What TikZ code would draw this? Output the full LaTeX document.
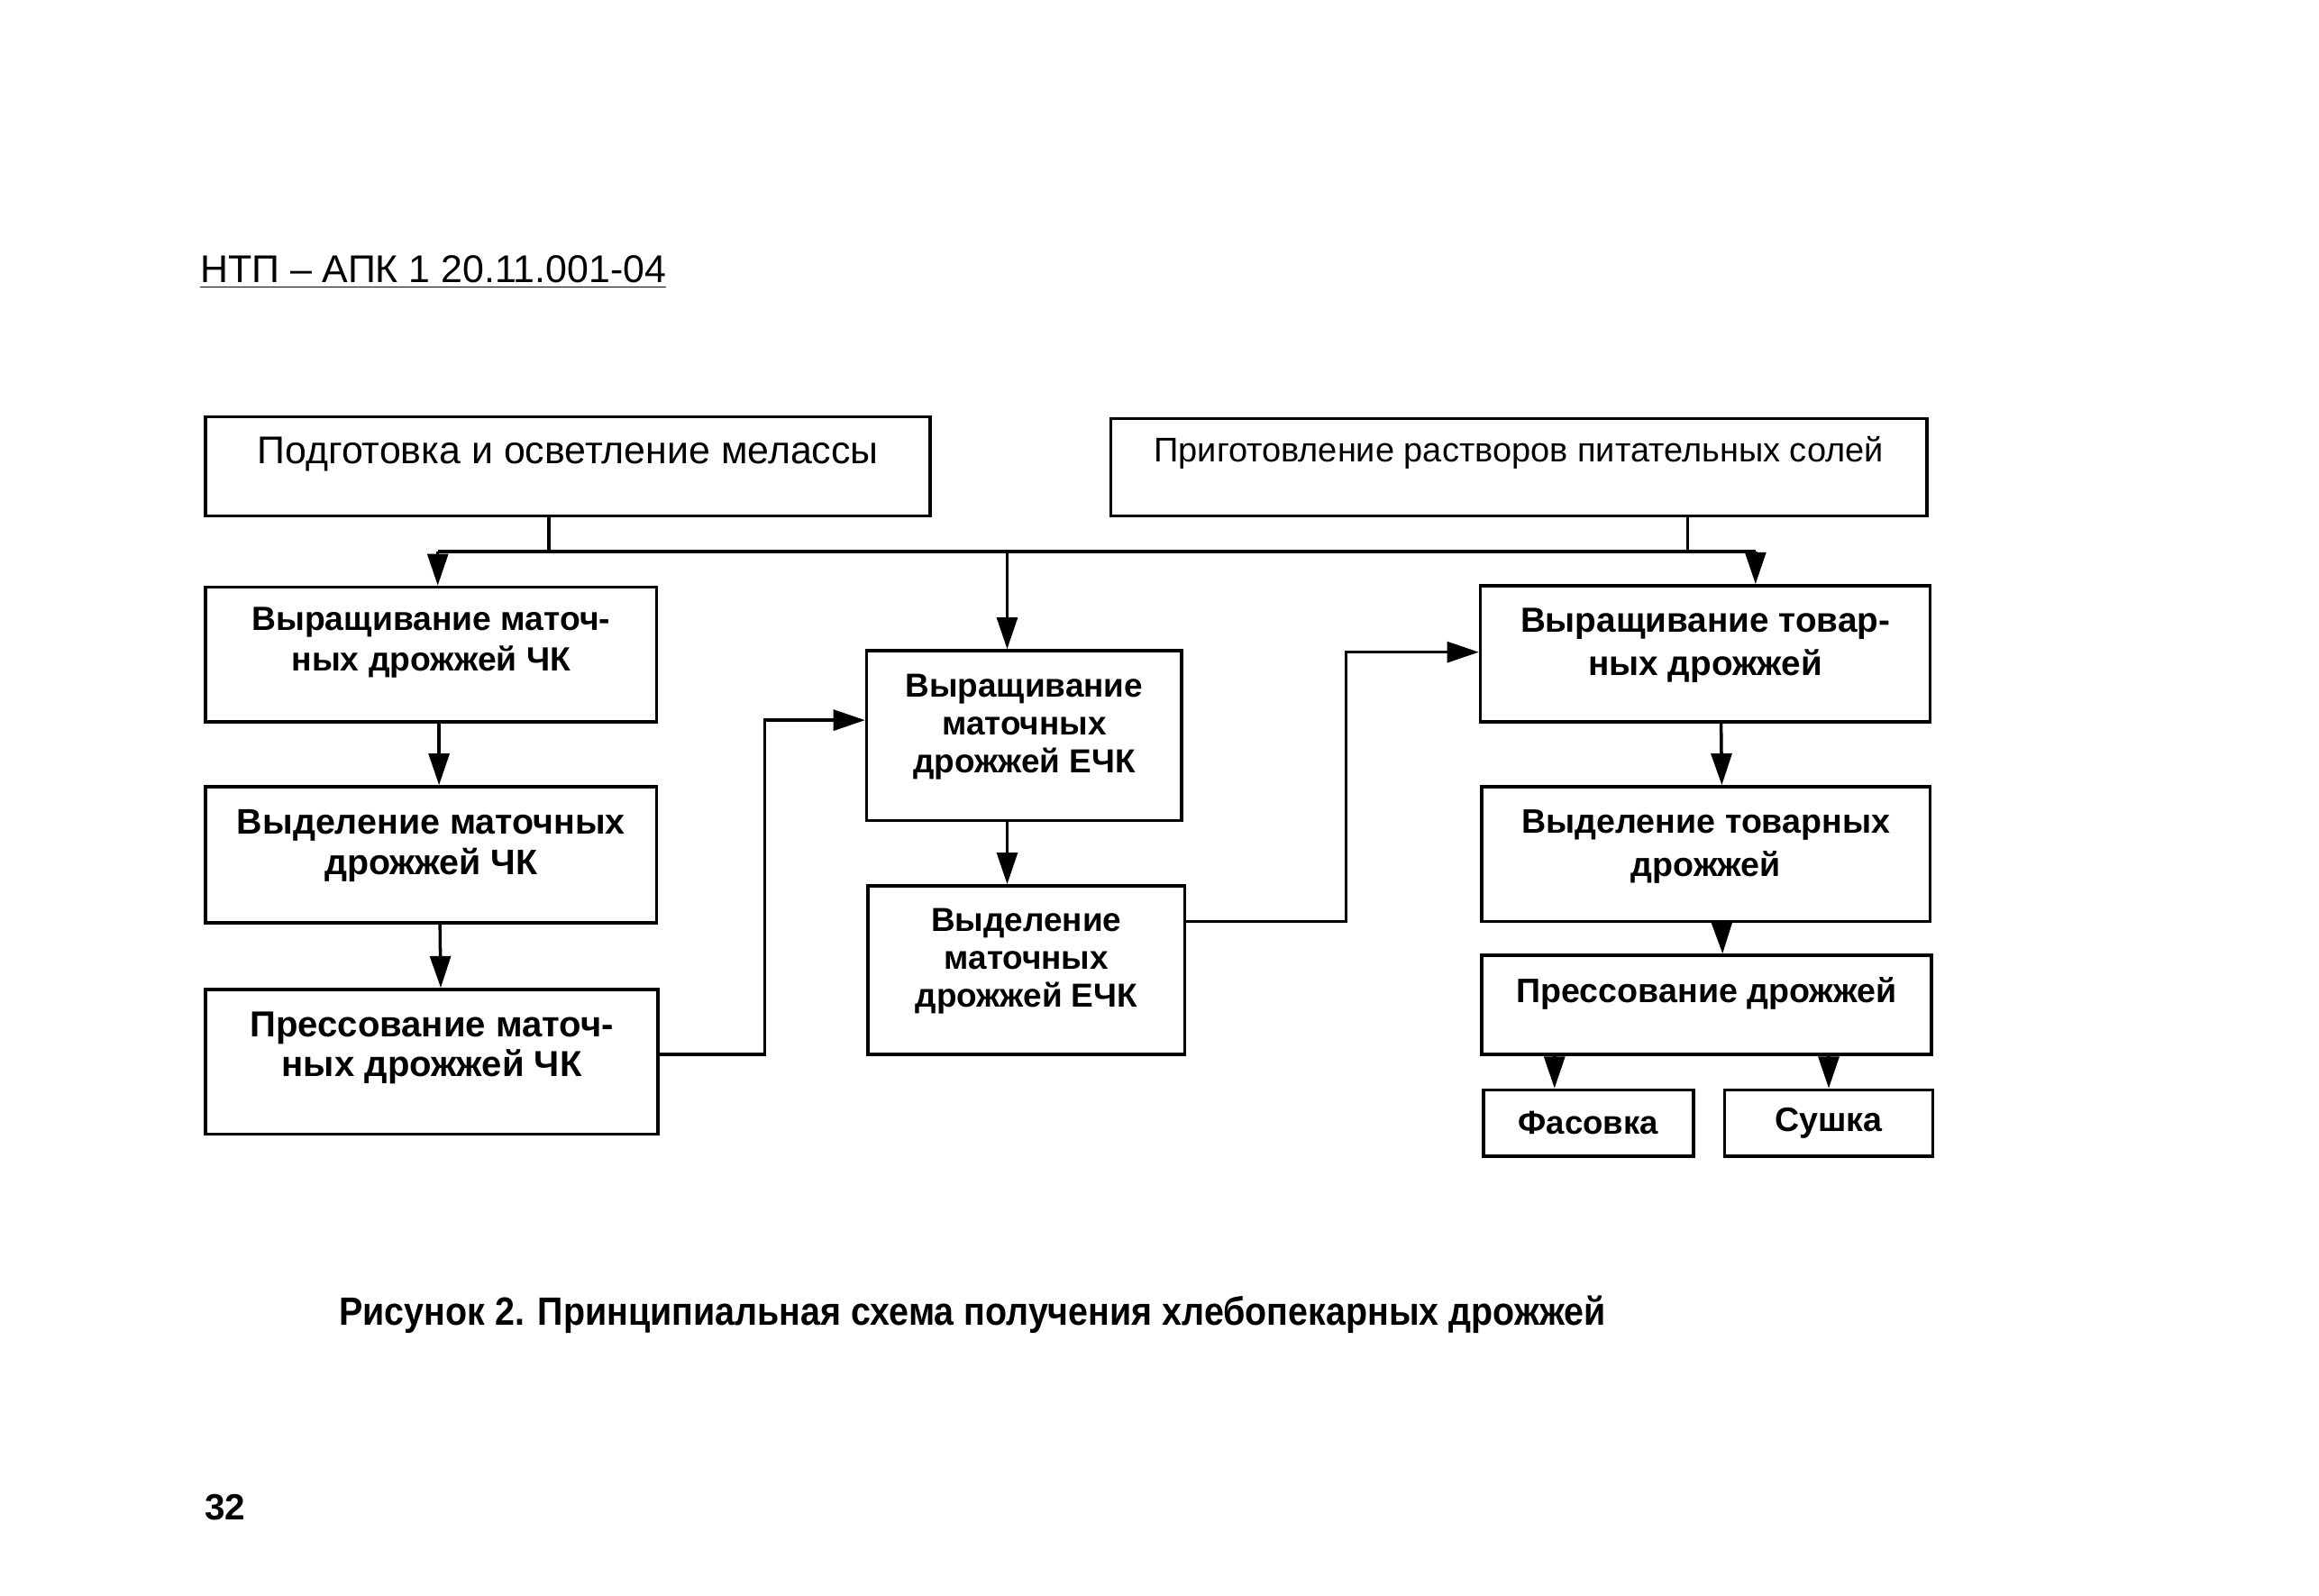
\documentclass[tikz,border=0pt]{standalone}
\usepackage{fontspec}
\setmainfont{Liberation Sans}
\newfontfamily\narrowfont[FakeStretch=0.9]{Liberation Sans}
\usetikzlibrary{arrows.meta,fit,positioning}
\tikzset{
    %Define standard arrow tip
    >={Triangle[length=10pt,width=6.5pt]},
    %Define style for boxes
    box/.style={
           rectangle,
           draw=black, line width=1pt,
           inner sep=0pt},
    boxtext/.style={
           align=center,
           inner sep=0pt,
           font=\bfseries\fontsize{11}{12.6}\selectfont},
    widetext/.style={
           align=center,
           inner sep=0pt,
           font=\bfseries\fontsize{10.7}{13.5}\selectfont},
    plaintext/.style={
           anchor=west,
           inner sep=0pt},
    % Define arrow style
    pil/.style={
           ->,
           line width=1pt},
    lin/.style={
           line width=1pt}
}
\begin{document}
\begin{tikzpicture}[x=0.01641cm,y=-0.01641cm]
\useasboundingbox (0,0) rectangle (1568,1079);
\node[plaintext, font=\fontsize{12.2}{14}\selectfont] (hdr) at (135,184) {\underline{НТП – АПК 1 20.11.001-04}};
% boxes
\node[box, fit={(139,282) (629,349)}] (melassa) {};
\node[box, fit={(751,283) (1303,349)}] (soli) {};
\node[box, fit={(139,397) (444,488)}] (rostchk) {};
\node[box, fit={(139,532) (444,624)}] (vydchk) {};
\node[box, fit={(139,669) (445,767)}] (presschk) {};
\node[box, fit={(586,440) (799,555)}] (rostechk) {};
\node[box, fit={(587,599) (801,713)}] (vydechk) {};
\node[box, fit={(1001,396) (1305,488)}] (rosttov) {};
\node[box, fit={(1002,532) (1305,623)}] (vydtov) {};
\node[box, fit={(1002,646) (1306,713)}] (presstov) {};
\node[box, fit={(1003,737) (1145,782)}] (fasovka) {};
\node[box, fit={(1166,737) (1307,782)}] (sushka) {};
% texts
\node[boxtext, font=\fontsize{12.2}{14}\selectfont] (melassa-t) at ([yshift=4pt]melassa) {Подготовка и осветление мелассы};
\node[boxtext, font=\fontsize{10.8}{13}\selectfont] (soli-t) at ([yshift=4.5pt]soli) {Приготовление растворов питательных солей};
\node[boxtext, font=\bfseries\fontsize{10.6}{12.6}\selectfont] (rostchk-t) at ([yshift=3.7pt]rostchk) {Выращивание маточ-\\ных дрожжей ЧК};
\node[boxtext, font=\bfseries\fontsize{11.2}{13}\selectfont] (vydchk-t) at ([yshift=2.8pt]vydchk) {Выделение маточных\\дрожжей ЧК};
\node[boxtext, font=\bfseries\fontsize{11.4}{12.6}\selectfont] (presschk-t) at ([yshift=4.4pt]presschk) {Прессование маточ-\\ных дрожжей ЧК};
\node[boxtext, font=\bfseries\fontsize{10.5}{11.9}\selectfont] (rostechk-t) at ([yshift=2.8pt]rostechk) {Выращивание\\маточных\\дрожжей ЕЧК};
\node[boxtext, font=\bfseries\fontsize{10.5}{11.9}\selectfont] (vydechk-t) at ([yshift=2.8pt]vydechk) {Выделение\\маточных\\дрожжей ЕЧК};
\node[widetext, font=\bfseries\fontsize{11}{13.5}\selectfont] (rosttov-t) at ([yshift=2.6pt]rosttov) {Выращивание товар-\\ных дрожжей};
\node[widetext] (vydtov-t) at ([yshift=2.3pt]vydtov) {Выделение товарных\\дрожжей};
\node[widetext] (presstov-t) at ([yshift=3.5pt]presstov) {Прессование дрожжей};
\node[widetext, font=\bfseries\fontsize{10.4}{13}\selectfont] (fasovka-t) at (fasovka) {Фасовка};
\node[widetext] (sushka-t) at (sushka) {Сушка};
% connectors
\coordinate (busl) at (296,373);
\coordinate (busr) at (1187,373);
\coordinate (j1) at (371,373);
\coordinate (j2) at (1141,373);
\coordinate (j3) at (681,373);
\draw[lin] (melassa.south -| j1) -- (j1);
\draw[lin] (soli.south -| j2) -- (j2);
\draw[lin] (busl) -- (busr);
\draw[pil] (busl) -- (rostchk.north -| busl);
\draw[pil] (j3) -- (rostechk.north -| j3);
\draw[pil] (busr) -- (rosttov.north -| busr);
\draw[pil] ([xshift=2.5pt]rostchk.south) -- ([xshift=2.5pt]vydchk.north);
\draw[pil] ([xshift=2.8pt]vydchk.south) -- ([xshift=2.8pt]presschk.north);
\draw[pil] (rostechk.south -| j3) -- (vydechk.north -| j3);
\coordinate (e1) at (517,713);
\coordinate (e2) at (517,487);
\draw[pil] (presschk.east |- e1) -- (e1) -- (e2) -- (rostechk.west |- e2);
\coordinate (g1) at (910,623);
\coordinate (g2) at (910,441);
\draw[pil] (vydechk.east |- g1) -- (g1) -- (g2) -- (rosttov.west |- g2);
\draw[pil] ([xshift=5pt]rosttov.south) -- ([xshift=5pt]vydtov.north);
\draw[pil] ([xshift=5pt]vydtov.south) -- ([xshift=5pt]presstov.north);
\draw[pil] ([xshift=-10.7pt]fasovka.north |- presstov.south) -- ([xshift=-10.7pt]fasovka.north);
\draw[pil] (presstov.south -| sushka.north) -- (sushka.north);
% caption
\node[plaintext, font=\narrowfont\bfseries\fontsize{12.45}{14}\selectfont] (cap) at (229,889) {Рисунок 2. Принципиальная схема получения хлебопекарных дрожжей};
\node[plaintext, font=\bfseries\fontsize{11.5}{13}\selectfont] (pg) at (138,1019) {32};
\end{tikzpicture}
\end{document}
